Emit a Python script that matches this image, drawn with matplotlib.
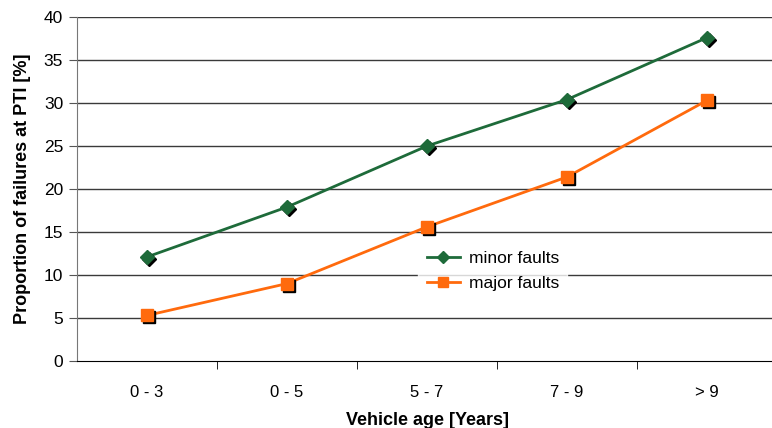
import matplotlib
matplotlib.use("Agg")
import matplotlib.pyplot as plt
import matplotlib.transforms as mtransforms
import numpy as np

categories = ["0 - 3", "0 - 5", "5 - 7", "7 - 9", "> 9"]
minor_faults = [12.1, 17.9, 25.0, 30.4, 37.6]
major_faults = [5.3, 9.0, 15.6, 21.4, 30.3]

plt.rcParams["font.family"] = ["Liberation Sans", "DejaVu Sans"]

fig = plt.figure(figsize=(7.72, 4.28), dpi=100)
ax = fig.add_axes([77 / 772, (428 - 361) / 428, 700 / 772, 344 / 428])

x = np.arange(len(categories))
green = "#1e6b3a"
orange = "#ff6a0d"

for yv in range(5, 41, 5):
    ax.axhline(yv, color="#3a3a3a", lw=1.0, zorder=1)

off = mtransforms.ScaledTranslation(2 / 100, -2 / 100, fig.dpi_scale_trans)

ax.plot(x, minor_faults, color=green, lw=2, zorder=3)
ax.plot(x, minor_faults, ls="none", marker="D", ms=7, color="black",
        transform=ax.transData + off, zorder=3.5)
ax.plot(x, minor_faults, ls="none", marker="D", ms=7, color=green, zorder=4)

ax.plot(x, major_faults, color=orange, lw=2, zorder=3)
ax.plot(x, major_faults, ls="none", marker="s", ms=8, color="black",
        transform=ax.transData + off, zorder=3.5)
ax.plot(x, major_faults, ls="none", marker="s", ms=8, color=orange, zorder=4)

# legend proxies
ax.plot([], [], color=green, lw=2, marker="D", ms=6, label="minor faults")
ax.plot([], [], color=orange, lw=2, marker="s", ms=7, label="major faults")
handles, labels = ax.get_legend_handles_labels()
leg = ax.legend(handles, labels, loc="upper left", bbox_to_anchor=(0.475, 0.37),
                frameon=True, fontsize=12.5, handlelength=1.9, borderpad=0.5,
                labelspacing=0.55, handletextpad=0.5)
leg.get_frame().set_facecolor("white")
leg.get_frame().set_edgecolor("white")
leg.get_frame().set_boxstyle("square", pad=0)
leg.set_zorder(5)

ax.set_xlim(-0.5, len(categories) - 0.5)
ax.set_ylim(0, 40)
ax.set_yticks(range(0, 41, 5))
ax.set_xticks(x)
ax.set_xticklabels(categories)
ax.set_xticks(np.arange(0.5, len(categories) - 0.5, 1), minor=True)
ax.tick_params(axis="x", which="major", length=0, pad=17, labelsize=12)
ax.tick_params(axis="x", which="minor", length=6, direction="out", color="black")
ax.tick_params(axis="y", length=6, direction="out", labelsize=12.5, color="#555555", pad=4)

for s in ["top", "right"]:
    ax.spines[s].set_visible(False)
ax.spines["left"].set_color("#777777")
ax.spines["bottom"].set_color("black")

ax.set_ylabel("Proportion of failures at PTI [%]", fontsize=13, fontweight="bold", labelpad=9)
ax.set_xlabel("Vehicle age [Years]", fontsize=13, fontweight="bold", labelpad=9)

fig.savefig("out.png", dpi=100)
